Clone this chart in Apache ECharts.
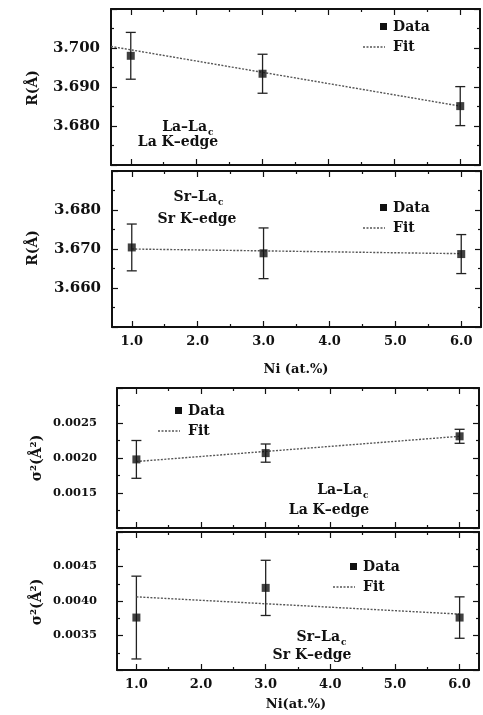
<!DOCTYPE html>
<html>
<head>
<meta charset="utf-8">
<script src="https://cdn.jsdelivr.net/npm/echarts@6/dist/echarts.min.js"></script>
<style>
  html, body { margin: 0; padding: 0; background: #fff; }
  #chart { width: 483px; height: 715px; }
</style>
</head>
<body>
<div id="chart"></div>
<script>
// Ni content (at.%) of the three samples
const niPct = [1.0, 3.0, 6.0]
const xMajorTicks = [1, 2, 3, 4, 5, 6]
const xMinorTicks = [1.5, 2.5, 3.5, 4.5, 5.5]

// La-Lac distance, La K-edge
const laLaR = [3.698, 3.6934, 3.6851]
const laLaRErr = [0.006, 0.005, 0.005]
const laLaRFit = [[0.7, 3.7004], [6.0, 3.6851]]

// Sr-Lac distance, Sr K-edge
const srLaR = [3.6704, 3.6689, 3.6687]
const srLaRErr = [0.006, 0.0065, 0.005]
const srLaRFit = [[1.0, 3.6700], [6.0, 3.6688]]

// La-Lac sigma^2, La K-edge
const laLaS = [0.00198, 0.00207, 0.00231]
const laLaSErr = [0.00027, 0.00013, 0.0001]
const laLaSFit = [[1.0, 0.00195], [6.0, 0.00231]]

// Sr-Lac sigma^2, Sr K-edge
const srLaS = [0.00376, 0.00419, 0.00376]
const srLaSErr = [0.0006, 0.0004, 0.0003]
const srLaSFit = [[1.0, 0.00406], [6.0, 0.00381]]

const FONT = '"DejaVu Serif", "Liberation Serif", serif'
const INK = '#111'

let chart = echarts.init(document.getElementById('chart'))

let panels = [
  {grid: {left: 111, right: 3, top: 9, height: 156}, min: 3.67, max: 3.71, step: 0.01, dec: 3, size: 15,
   vals: laLaR, errs: laLaRErr, fit: laLaRFit, xLabels: false},
  {grid: {left: 112, right: 2, top: 171, height: 156}, min: 3.65, max: 3.69, step: 0.01, dec: 3, size: 15,
   vals: srLaR, errs: srLaRErr, fit: srLaRFit, xLabels: true},
  {grid: {left: 117, right: 4, top: 388, height: 140}, min: 0.0010, max: 0.0030, step: 0.0005, dec: 4, size: 11.5,
   vals: laLaS, errs: laLaSErr, fit: laLaSFit, xLabels: false},
  {grid: {left: 117, right: 4, top: 532, height: 138}, min: 0.0030, max: 0.0050, step: 0.0005, dec: 4, size: 11.5,
   vals: srLaS, errs: srLaSErr, fit: srLaSFit, xLabels: true}
]

let lineStyle = {color: INK, width: 2}
let tickStyle = {color: INK, width: 1.2}

let grids = [], xAxes = [], yAxes = [], series = []

panels.forEach(function (p, g) {
  grids.push(p.grid)
  ;['bottom', 'top'].forEach(function (pos) {
    xAxes.push({
      gridIndex: g, type: 'value', min: 0.7, max: 6.3, position: pos,
      axisLine: {show: true, onZero: false, lineStyle: lineStyle},
      axisTick: {inside: true, length: 6, customValues: xMajorTicks, lineStyle: tickStyle},
      axisLabel: {
        show: p.xLabels && pos == 'bottom', customValues: xMajorTicks, margin: 8,
        formatter: function (v) { return v.toFixed(1) },
        fontFamily: FONT, fontWeight: 'bold', fontSize: 13, color: INK
      },
      splitLine: {show: false}
    })
  })
  ;['bottom', 'top'].forEach(function (pos) {
    xAxes.push({
      gridIndex: g, type: 'value', min: 0.7, max: 6.3, position: pos,
      axisLine: {show: false},
      axisTick: {inside: true, length: 3, customValues: xMinorTicks, lineStyle: tickStyle},
      axisLabel: {show: false},
      splitLine: {show: false}
    })
  })
  ;['left', 'right'].forEach(function (pos) {
    yAxes.push({
      gridIndex: g, type: 'value', min: p.min, max: p.max, interval: p.step, position: pos,
      axisLine: {show: true, onZero: false, lineStyle: lineStyle},
      axisTick: {inside: true, length: 6, lineStyle: tickStyle},
      minorTick: {show: true, splitNumber: 2, length: 3, lineStyle: tickStyle},
      axisLabel: {
        show: pos == 'left', showMinLabel: false, showMaxLabel: false,
        margin: p.dec == 3 ? 11 : 20,
        formatter: function (v) { return v.toFixed(p.dec) },
        fontFamily: FONT, fontWeight: 'bold', fontSize: p.size, color: INK
      },
      splitLine: {show: false}
    })
  })

  let xi = g * 4, yi = g * 2
  series.push({
    type: 'line', xAxisIndex: xi, yAxisIndex: yi, data: p.fit,
    symbol: 'none', silent: true,
    lineStyle: {type: [2, 1.5], width: 1.4, color: '#555'}
  })
  series.push({
    type: 'custom', xAxisIndex: xi, yAxisIndex: yi,
    data: niPct.map(function (x, i) { return [x, p.vals[i], p.errs[i]] }),
    renderItem: function (params, api) {
      let x = api.value(0), y = api.value(1), e = api.value(2)
      let hi = api.coord([x, y + e]), lo = api.coord([x, y - e])
      let st = {stroke: '#222', lineWidth: 1.3}
      return {type: 'group', children: [
        {type: 'line', shape: {x1: hi[0], y1: hi[1], x2: lo[0], y2: lo[1]}, style: st},
        {type: 'line', shape: {x1: hi[0] - 5, y1: hi[1], x2: hi[0] + 5, y2: hi[1]}, style: st},
        {type: 'line', shape: {x1: lo[0] - 5, y1: lo[1], x2: lo[0] + 5, y2: lo[1]}, style: st}
      ]}
    }
  })
  series.push({
    type: 'scatter', xAxisIndex: xi, yAxisIndex: yi, z: 5,
    data: niPct.map(function (x, i) { return [x, p.vals[i]] }),
    symbol: 'rect', symbolSize: 8, itemStyle: {color: INK}
  })
})

// text helpers for legends, labels and names
function txt(x, y, s, size) {
  return {
    type: 'text', x: x, y: y,
    style: {text: s, fontFamily: FONT, fontWeight: 'bold', fontSize: size, fill: INK,
      textAlign: 'left', textVerticalAlign: 'middle'}
  }
}
function centered(x, y, s, size) {
  let t = txt(x, y, s, size)
  t.style.textAlign = 'center'
  return t
}
function legend(x, y) {
  // x = left edge of the text, y = middle of the "Data" row
  return [
    {type: 'rect', shape: {x: x - 13, y: y - 4, width: 7, height: 7}, style: {fill: INK}},
    txt(x, y, 'Data', 14),
    {type: 'line', shape: {x1: x - 30, y1: y + 20, x2: x - 8, y2: y + 20},
     style: {stroke: '#555', lineWidth: 1.4, lineDash: [2, 1.5]}},
    txt(x, y + 20, 'Fit', 14)
  ]
}
function pairLabel(xr, y, a, xc, y2, b) {
  // "a" ending at xr with a subscript c, then line b centred on xc
  let first = txt(xr, y, a, 14)
  first.style.textAlign = 'right'
  return [first, txt(xr + 1, y + 6, 'c', 9), centered(xc, y2, b, 14)]
}
function yName(x, y, s) {
  let t = centered(x, y, s, 14)
  t.rotation = Math.PI / 2
  return t
}

let graphics = [].concat(
  legend(393, 27),
  legend(393, 208),
  legend(188, 411),
  legend(363, 567),
  pairLabel(207, 127, 'La–La', 178, 142, 'La K–edge'),
  pairLabel(217, 197, 'Sr–La', 197, 219, 'Sr K–edge'),
  pairLabel(362, 490, 'La–La', 329, 510, 'La K–edge'),
  pairLabel(340, 637, 'Sr–La', 312, 655, 'Sr K–edge'),
  [
    yName(33, 88, 'R(Å)'),
    yName(33, 248, 'R(Å)'),
    yName(37, 458, 'σ²(Å²)'),
    yName(37, 602, 'σ²(Å²)'),
    centered(296, 370, 'Ni (at.%)', 13),
    centered(296, 705, 'Ni(at.%)', 13)
  ]
)

chart.setOption({
  backgroundColor: '#fff',
  animation: false,
  grid: grids,
  xAxis: xAxes,
  yAxis: yAxes,
  series: series,
  graphic: graphics
})
</script>
</body>
</html>
